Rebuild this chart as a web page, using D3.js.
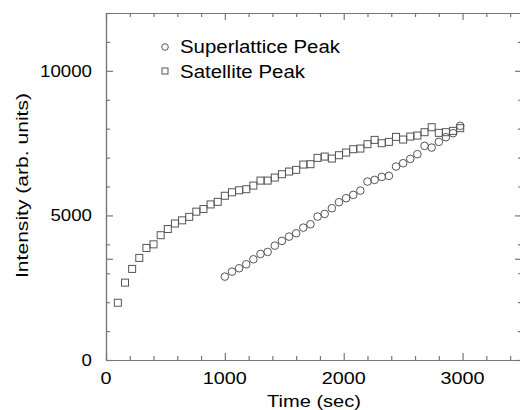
<!DOCTYPE html>
<html>
<head>
<meta charset="utf-8">
<script src="https://cdn.jsdelivr.net/npm/d3@7"></script>
<style>
body { margin: 0; background: #fff; }
text { font-family: "Liberation Sans", Arial, Helvetica, sans-serif; fill: #000; }
</style>
</head>
<body>
<script>
const WIDTH = 520;
const HEIGHT = 410;
const LEFT = 106;
const RIGHT = 522;
const TOP = 13;
const BOTTOM = 360;

// Satellite peak (squares), time in sec
const satelliteTime = [100,160,220,280,340,400,460,520,580,640,700,760,820,880,940,1000,1060,1120,1180,1240,
	1300,1360,1420,1480,1540,1600,1660,1720,1780,1840,1900,1960,2020,2080,2140,2200,2260,2320,2380,2440,
	2500,2560,2620,2680,2740,2800,2860,2920,2980];
const satelliteIntensity = [1980,2675,3150,3530,3875,4000,4315,4530,4720,4830,4950,5130,5220,5380,5470,5680,5800,5870,5906,6031,
	6204,6204,6309,6425,6517,6575,6759,6771,6990,7035,6966,7082,7173,7290,7312,7463,7612,7497,7543,7716,
	7624,7728,7762,7878,8050,7855,7878,7924,8017];

// Superlattice peak (circles)
const superTime = [1000,1060,1120,1180,1240,1300,1360,1420,1480,1540,1600,1660,1720,1780,1840,1900,1960,2020,2080,2140,
	2200,2260,2320,2380,2440,2500,2560,2620,2680,2740,2800,2860,2920,2980];
const superIntensity = [2883,3056,3172,3310,3483,3667,3737,3955,4118,4267,4383,4578,4694,4959,5052,5249,5457,5595,5709,5858,
	6170,6228,6332,6367,6690,6805,6955,7118,7405,7346,7543,7705,7844,8097];

const xMajor = [0,1000,2000,3000];
const yMajor = [0,5000,10000];
const legendLabels = ['Superlattice Peak','Satellite Peak'];

const MARK = '#555';
const AXIS = '#777';

var drawChart = function(){
	var svg = d3.select('body').append('svg')
		.attr('width',WIDTH)
		.attr('height',HEIGHT);

	var x = d3.scaleLinear().domain([0,3500]).range([LEFT,RIGHT]);
	var y = d3.scaleLinear().domain([0,12000]).range([BOTTOM,TOP]);

	var xMinor = d3.range(0,3501,200).filter(function(v){ return v % 1000 !== 0; });
	var yMinor = d3.range(0,12001,1000).filter(function(v){ return v % 5000 !== 0; });

	var styleAxis = function(g){
		g.selectAll('path,line').attr('stroke',AXIS).attr('stroke-width',1.2);
		g.selectAll('text').remove();
	};

	// frame + ticks (inward)
	var axes = [
		{gen: d3.axisBottom, scale: x, t: 'translate(0,'+BOTTOM+')', major: xMajor, minor: xMinor},
		{gen: d3.axisTop, scale: x, t: 'translate(0,'+TOP+')', major: xMajor, minor: xMinor},
		{gen: d3.axisLeft, scale: y, t: 'translate('+LEFT+',0)', major: yMajor, minor: yMinor},
		{gen: d3.axisRight, scale: y, t: 'translate('+RIGHT+',0)', major: yMajor, minor: yMinor}
	];
	axes.forEach(function(a){
		svg.append('g').attr('transform',a.t)
			.call(a.gen(a.scale).tickValues(a.minor).tickSize(-4).tickSizeOuter(0))
			.call(styleAxis);
		svg.append('g').attr('transform',a.t)
			.call(a.gen(a.scale).tickValues(a.major.concat([3500])).tickSize(-7).tickSizeOuter(0))
			.call(styleAxis);
	});

	// tick labels
	svg.append('g').selectAll('text')
		.data(xMajor).enter().append('text')
		.attr('x',function(d){ return x(d); })
		.attr('y',BOTTOM+24)
		.attr('text-anchor','middle')
		.attr('font-size',17)
		.attr('textLength',function(d){ return String(d).length*11; })
		.attr('lengthAdjust','spacingAndGlyphs')
		.text(function(d){ return d; });

	svg.append('g').selectAll('text')
		.data(yMajor).enter().append('text')
		.attr('x',LEFT-14)
		.attr('y',function(d){ return y(d)+6; })
		.attr('text-anchor','end')
		.attr('font-size',17)
		.attr('textLength',function(d){ return String(d).length*10.4; })
		.attr('lengthAdjust','spacingAndGlyphs')
		.text(function(d){ return d; });

	// axis titles
	svg.append('text')
		.attr('x',(LEFT+RIGHT)/2)
		.attr('y',407)
		.attr('text-anchor','middle')
		.attr('font-size',17)
		.attr('textLength',94)
		.attr('lengthAdjust','spacingAndGlyphs')
		.text('Time (sec)');

	svg.append('text')
		.attr('transform','translate(28,185.5) rotate(-90)')
		.attr('text-anchor','middle')
		.attr('font-size',17)
		.attr('textLength',185)
		.attr('lengthAdjust','spacingAndGlyphs')
		.text('Intensity (arb. units)');

	// data
	var sat = satelliteTime.map(function(t,i){ return {x:t, y:satelliteIntensity[i]}; });
	var sup = superTime.map(function(t,i){ return {x:t, y:superIntensity[i]}; });
	var S = 7;

	svg.append('g').selectAll('rect')
		.data(sat).enter().append('rect')
		.attr('x',function(d){ return x(d.x)-S/2; })
		.attr('y',function(d){ return y(d.y)-S/2; })
		.attr('width',S).attr('height',S)
		.attr('fill','none').attr('stroke',MARK).attr('stroke-width',1);

	svg.append('g').selectAll('circle')
		.data(sup).enter().append('circle')
		.attr('cx',function(d){ return x(d.x); })
		.attr('cy',function(d){ return y(d.y); })
		.attr('r',3.8)
		.attr('fill','none').attr('stroke',MARK).attr('stroke-width',1);

	// legend
	var legend = svg.append('g');
	legend.append('circle').attr('cx',165).attr('cy',47).attr('r',3.3)
		.attr('fill','none').attr('stroke',MARK);
	legend.append('rect').attr('x',162).attr('y',68).attr('width',6).attr('height',6)
		.attr('fill','none').attr('stroke',MARK);
	legend.selectAll('text').data(legendLabels).enter().append('text')
		.attr('x',180)
		.attr('y',function(d,i){ return 53+i*24.5; })
		.attr('font-size',17.5)
		.attr('textLength',function(d,i){ return i===0 ? 160 : 125; })
		.attr('lengthAdjust','spacingAndGlyphs')
		.text(function(d){ return d; });
}

window.onload = function(){
	drawChart();
}
</script>
</body>
</html>
